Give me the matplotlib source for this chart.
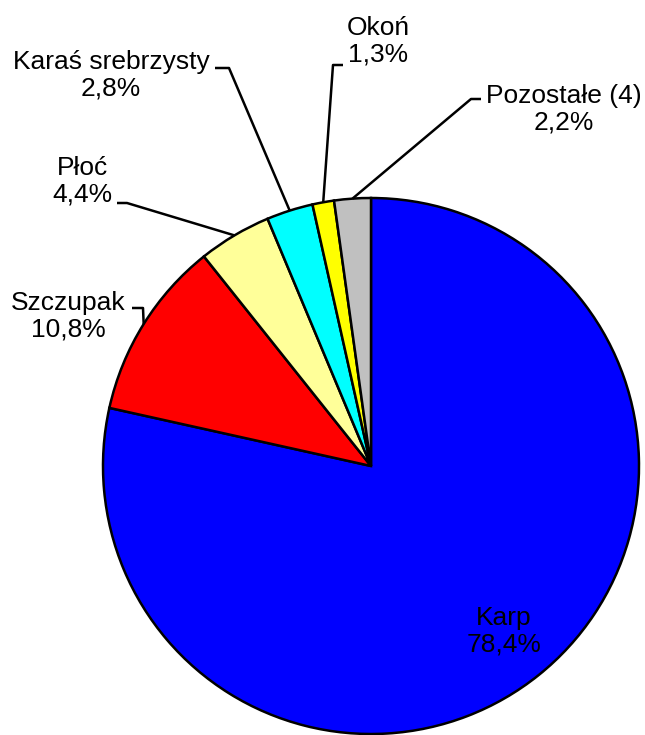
import matplotlib.pyplot as plt
import numpy as np

plt.rcParams['font.family'] = ['Liberation Sans', 'DejaVu Sans']

species = ["Karp", "Szczupak", "Płoć", "Karaś srebrzysty", "Okoń", "Pozostałe (4)"]
shares = [78.4, 10.8, 4.4, 2.8, 1.3, 2.2]
colors = ["#0000FF", "#FF0000", "#FFFF99", "#00FFFF", "#FFFF00", "#C0C0C0"]

W, H = 645, 735
cx, cy, R = 371, H - 466, 268

# label block centre and leader elbow/end (pixel coords from top-left), None = inside
label_pos = [(504, 631), (68, 316), (82, 181), (111, 75), (378, 41), (564, 109)]
leaders = [None,
           [(143, 308), (132, 308)],
           [(127, 203), (117, 203)],
           [(229, 68), (215, 68)],
           [(333, 65), (343, 65)],
           [(471, 99), (481, 99)]]

fig = plt.figure(figsize=(W / 100, H / 100), dpi=100)
ax = fig.add_axes([0, 0, 1, 1])

wedges, _ = ax.pie(shares, colors=colors, startangle=90, counterclock=False,
                   center=(cx, cy), radius=R, frame=True,
                   wedgeprops=dict(edgecolor="black", linewidth=1.8))
ax.set_xlim(0, W)
ax.set_ylim(0, H)
ax.axis("off")

for w, name, val, pos, ld in zip(wedges, species, shares, label_pos, leaders):
    txt = name + "\n" + ("%.1f" % val).replace(".", ",") + "%"
    ax.text(pos[0], H - pos[1], txt, ha="center", va="center", fontsize=19,
            linespacing=1.15)
    if ld is None:
        continue
    mid = np.deg2rad((w.theta1 + w.theta2) / 2)
    ex, ey = cx + R * np.cos(mid), cy + R * np.sin(mid)
    xs = [ex] + [p[0] for p in ld]
    ys = [ey] + [H - p[1] for p in ld]
    ax.plot(xs, ys, color="black", linewidth=1.8, solid_capstyle="butt")

fig.savefig("out.png", dpi=100)
